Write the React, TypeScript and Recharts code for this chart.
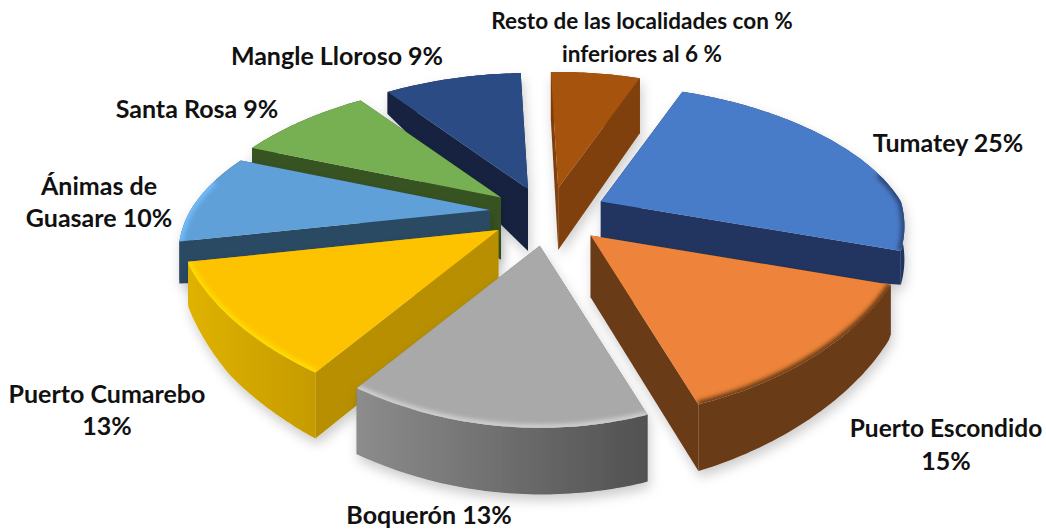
import { Pie, PieChart } from 'recharts';

const categories = [
  'Resto',
  'Tumatey',
  'Puerto Escondido',
  'Boquerón',
  'Puerto Cumarebo',
  'Ánimas de Guasare',
  'Santa Rosa',
  'Mangle Lloroso',
];
// wedge shares as measured on the drawing (the printed labels are rounded differently)
const shares = [6.7, 23.6, 14.5, 16.0, 11.7, 8.9, 8.6, 10.0];
const topColors = ['#a5520f', '#4a7bc8', '#ee843a', '#a9a9a9', '#fdc300', '#60a0d9', '#77b052', '#2b4c83'];
const sideColors = ['#7f3f0b', '#203560', '#693a16', '#6e6e6e', '#b88f00', '#2c4a63', '#375322', '#14233f'];
const wallColors = ['#7f3f0b', '#203560', '#693a16', 'url(#grayWall)', 'url(#yellowWall)', '#2c4a63', '#375322', '#14233f'];
const rimColors = ['none', '#2c4679', '#693a16', '#cfcfcf', '#ffdc00', '#72bdfa', 'none', 'none'];

// painter's order, back to front
const drawOrder = ['Resto', 'Mangle Lloroso', 'Santa Rosa', 'Ánimas de Guasare', 'Tumatey', 'Puerto Escondido', 'Puerto Cumarebo', 'Boquerón'];

const labelLines = [
  { text: 'Resto de las localidades con %', x: 642, y: 29, size: 22.5 },
  { text: 'inferiores al 6 %', x: 642, y: 62, size: 22.5 },
  { text: 'Mangle Lloroso 9%', x: 337, y: 65, size: 25 },
  { text: 'Santa Rosa 9%', x: 197, y: 118, size: 25 },
  { text: 'Ánimas de', x: 99, y: 195, size: 25 },
  { text: 'Guasare 10%', x: 99, y: 227, size: 25 },
  { text: 'Tumatey 25%', x: 948, y: 152, size: 25 },
  { text: 'Puerto Escondido', x: 946, y: 437, size: 24.5 },
  { text: '15%', x: 946, y: 470, size: 25 },
  { text: 'Puerto Cumarebo', x: 107, y: 403, size: 25 },
  { text: '13%', x: 107, y: 435, size: 25 },
  { text: 'Boquerón 13%', x: 429, y: 524, size: 25 },
];

const data = categories.map((name, i) => ({ name, value: shares[i], fill: topColors[i] }));

// wall height around the rim, by clockwise angle from the top
const rimDepthKeys = [
  [0, 50], [22, 55], [60, 30], [107, 34], [107.1, 52], [160, 67], [217, 66], [240, 58], [259, 42], [291, 18], [322, 22], [360, 50],
];
const APEX_DEPTH = 62;
const EXPLODE = 0.195;

function rimDepth(theta: number) {
  const t = ((theta % 360) + 360) % 360;
  for (let i = 1; i < rimDepthKeys.length; i++) {
    const [a, da] = rimDepthKeys[i - 1];
    const [b, db] = rimDepthKeys[i];
    if (t <= b) return da + ((t - a) / (b - a)) * (db - da);
  }
  return 50;
}

// flattened view of the disc: wider and taller towards the viewer
function rimOffset(theta: number, radius: number) {
  const rad = (theta * Math.PI) / 180;
  const X = Math.sin(rad);
  const Y = -Math.cos(rad);
  let xs: number;
  if (X >= 0) {
    if (Y < 0) xs = 300 + 90 * Y;
    else if (Y < 0.3) xs = 300 + 47 * Y;
    else xs = 314 - (Y - 0.3) * 15;
  } else {
    xs = Y < 0.2 ? 317 + (Y - 0.2) * 90 : 317 - (Y - 0.2) * 20;
  }
  const dy = Y >= 0 ? Y * (162 + 20 * Y) : Y * (150 + 34 * Y);
  return { x: (X * xs * radius) / 300, y: (dy * radius) / 300, front: Y };
}

const pts = (list: { x: number; y: number }[]) =>
  list.map((p, i) => `${i ? 'L' : 'M'}${p.x.toFixed(1)} ${p.y.toFixed(1)}`).join(' ');

function Slice(props: any) {
  const { cx, cy, outerRadius, startAngle, endAngle, index } = props;
  const a0 = 90 - startAngle;
  const a1 = 90 - endAngle;
  const mid = ((a0 + a1) / 2) * (Math.PI / 180);
  const midY = -Math.cos(mid);
  const apex = {
    x: cx + EXPLODE * Math.sin(mid) * outerRadius,
    y: cy + EXPLODE * midY * (midY > 0 ? 175 : 125) * (outerRadius / 300),
  };
  const topArc: { x: number; y: number }[] = [];
  const lowArc: { x: number; y: number }[] = [];
  const rimArc: { x: number; y: number }[] = [];
  const steps = Math.ceil(a1 - a0);
  for (let s = 0; s <= steps; s++) {
    const th = a0 + ((a1 - a0) * s) / steps;
    const o = rimOffset(th, outerRadius);
    const p = { x: apex.x + o.x, y: apex.y + o.y };
    topArc.push(p);
    // keep the walls inside the slice's own end angles
    const d = s === steps ? rimDepth(th - 0.2) : rimDepth(th + 0.01);
    lowArc.push({ x: p.x, y: p.y + d });
    if (o.front > -0.2) rimArc.push(p);
  }
  const apexLow = { x: apex.x, y: apex.y + APEX_DEPTH };
  const first = topArc[0];
  const last = topArc[topArc.length - 1];
  const clipId = `top-${index}`;
  const topPath = `${pts([apex, ...topArc])} Z`;
  return (
    <g filter="url(#softShadow)">
      <path d={`${pts([apex, first, lowArc[0], apexLow])} Z`} fill={sideColors[index]} />
      <path d={`${pts([apex, last, lowArc[lowArc.length - 1], apexLow])} Z`} fill={sideColors[index]} />
      <path d={`${pts([...topArc, ...[...lowArc].reverse()])} Z`} fill={wallColors[index]} />
      <clipPath id={clipId}>
        <path d={topPath} />
      </clipPath>
      <path d={topPath} fill={topColors[index]} />
      {rimColors[index] !== 'none' && rimArc.length > 1 && (
        <g clipPath={`url(#${clipId})`}>
          <path d={pts(rimArc)} fill="none" stroke={rimColors[index]} strokeWidth={7} filter="url(#rimBlur)" />
        </g>
      )}
    </g>
  );
}

export default function App() {
  return (
    <div style={{ position: 'absolute', left: 0, top: 0, width: 1046, height: 530, background: '#fff' }}>
      <PieChart width={1046} height={530} margin={{ top: 0, right: 0, bottom: 0, left: 0 }}>
        <defs>
          <linearGradient id="grayWall" x1="0" y1="0" x2="1" y2="0">
            <stop offset="0" stopColor="#8c8c8c" />
            <stop offset="1" stopColor="#515151" />
          </linearGradient>
          <linearGradient id="yellowWall" x1="0" y1="0" x2="1" y2="0">
            <stop offset="0" stopColor="#dfb200" />
            <stop offset="1" stopColor="#c59b00" />
          </linearGradient>
          <filter id="softShadow" x="0" y="0" width="1046" height="530" filterUnits="userSpaceOnUse">
            <feDropShadow dx="2" dy="6" stdDeviation="6" floodColor="#000" floodOpacity="0.2" />
          </filter>
          <filter id="rimBlur" x="0" y="0" width="1046" height="530" filterUnits="userSpaceOnUse">
            <feGaussianBlur stdDeviation="2" />
          </filter>
        </defs>
        {drawOrder.map((name) => (
          <Pie
            key={name}
            data={data}
            dataKey="value"
            nameKey="name"
            cx={548}
            cy={212}
            outerRadius={300}
            startAngle={92}
            endAngle={-268}
            paddingAngle={0}
            stroke="none"
            isAnimationActive={false}
            shape={(props: any) =>
              categories[props.index] === name ? <Slice {...props} /> : <g />
            }
          />
        ))}
        {labelLines.map((l) => (
          <text
            key={l.text}
            x={l.x}
            y={l.y}
            textAnchor="middle"
            fontFamily="Lato, sans-serif"
            fontWeight={700}
            fontSize={l.size}
            fill="#111"
          >
            {l.text}
          </text>
        ))}
      </PieChart>
    </div>
  );
}
